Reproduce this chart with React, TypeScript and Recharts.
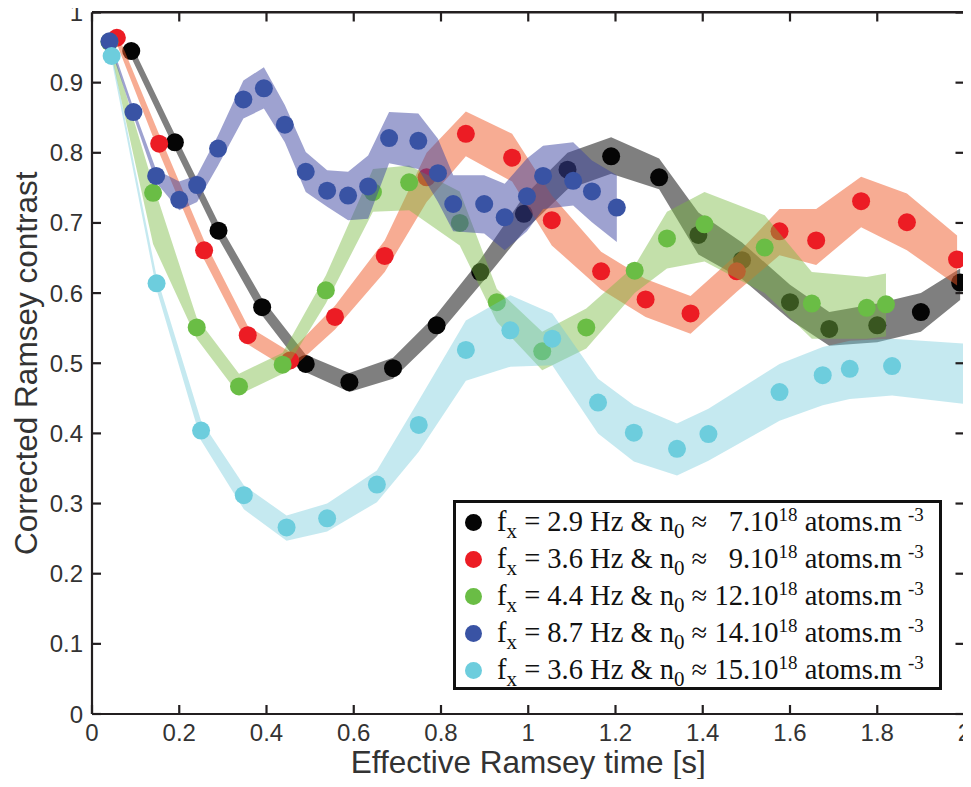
import { ComposedChart, Area, Scatter, XAxis, YAxis } from 'recharts';

// Effective Ramsey time [s] and corrected contrast
const blackTime = [0.09, 0.19, 0.29, 0.39, 0.49, 0.59, 0.69, 0.79, 0.89, 0.99, 1.09, 1.19, 1.3, 1.39, 1.49, 1.6, 1.69, 1.8, 1.9, 1.99];
const blackContrast = [0.945, 0.815, 0.689, 0.58, 0.499, 0.473, 0.493, 0.554, 0.63, 0.713, 0.776, 0.795, 0.765, 0.683, 0.647, 0.587, 0.549, 0.554, 0.573, 0.615];
const blackLow = [0.936, 0.805, 0.678, 0.568, 0.487, 0.459, 0.478, 0.538, 0.612, 0.688, 0.748, 0.77, 0.748, 0.655, 0.62, 0.562, 0.525, 0.53, 0.545, 0.59];
const blackHigh = [0.955, 0.826, 0.7, 0.592, 0.512, 0.486, 0.508, 0.57, 0.648, 0.738, 0.8, 0.822, 0.792, 0.715, 0.672, 0.612, 0.573, 0.585, 0.6, 0.635];

const redTime = [0.057, 0.154, 0.257, 0.357, 0.454, 0.557, 0.671, 0.767, 0.857, 0.963, 1.054, 1.167, 1.269, 1.372, 1.478, 1.576, 1.66, 1.763, 1.868, 1.983];
const redContrast = [0.964, 0.813, 0.661, 0.54, 0.504, 0.566, 0.653, 0.765, 0.827, 0.793, 0.704, 0.631, 0.591, 0.571, 0.631, 0.688, 0.675, 0.731, 0.701, 0.648];
const redLow = [0.955, 0.8, 0.648, 0.527, 0.49, 0.548, 0.63, 0.73, 0.795, 0.759, 0.668, 0.605, 0.566, 0.542, 0.602, 0.654, 0.64, 0.694, 0.661, 0.611];
const redHigh = [0.972, 0.826, 0.675, 0.553, 0.516, 0.582, 0.675, 0.8, 0.859, 0.827, 0.739, 0.659, 0.62, 0.596, 0.655, 0.72, 0.72, 0.766, 0.742, 0.682];

const greenTime = [0.04, 0.14, 0.24, 0.337, 0.437, 0.536, 0.644, 0.727, 0.843, 0.928, 1.032, 1.133, 1.244, 1.318, 1.404, 1.542, 1.65, 1.776, 1.82];
const greenContrast = [0.958, 0.743, 0.551, 0.467, 0.498, 0.604, 0.744, 0.758, 0.7, 0.587, 0.517, 0.551, 0.632, 0.678, 0.698, 0.665, 0.585, 0.579, 0.584];
const greenLow = [0.952, 0.67, 0.535, 0.455, 0.485, 0.585, 0.716, 0.718, 0.668, 0.559, 0.49, 0.521, 0.6, 0.635, 0.645, 0.6, 0.535, 0.535, 0.538];
const greenHigh = [0.962, 0.755, 0.565, 0.485, 0.515, 0.625, 0.777, 0.782, 0.745, 0.606, 0.545, 0.578, 0.639, 0.716, 0.744, 0.711, 0.63, 0.623, 0.628];

const blueTime = [0.04, 0.095, 0.147, 0.2, 0.241, 0.289, 0.347, 0.394, 0.442, 0.49, 0.539, 0.587, 0.633, 0.681, 0.748, 0.793, 0.828, 0.899, 0.946, 0.997, 1.034, 1.103, 1.146, 1.203];
const blueContrast = [0.959, 0.858, 0.767, 0.733, 0.754, 0.806, 0.876, 0.892, 0.84, 0.773, 0.746, 0.739, 0.752, 0.821, 0.817, 0.771, 0.727, 0.727, 0.708, 0.738, 0.767, 0.76, 0.745, 0.722];
const blueLow = [0.954, 0.852, 0.758, 0.718, 0.73, 0.782, 0.849, 0.863, 0.815, 0.744, 0.723, 0.704, 0.706, 0.785, 0.777, 0.73, 0.688, 0.685, 0.661, 0.688, 0.72, 0.725, 0.701, 0.673];
const blueHigh = [0.964, 0.864, 0.776, 0.759, 0.768, 0.825, 0.903, 0.922, 0.868, 0.801, 0.775, 0.773, 0.796, 0.858, 0.856, 0.82, 0.768, 0.768, 0.756, 0.792, 0.81, 0.815, 0.789, 0.768];

const cyanTime = [0.045, 0.148, 0.25, 0.348, 0.446, 0.539, 0.653, 0.749, 0.857, 0.959, 1.055, 1.16, 1.242, 1.341, 1.413, 1.576, 1.675, 1.737, 1.834];
const cyanContrast = [0.938, 0.614, 0.404, 0.312, 0.266, 0.279, 0.327, 0.412, 0.519, 0.547, 0.535, 0.444, 0.401, 0.378, 0.399, 0.459, 0.483, 0.492, 0.496];
// the cyan band runs on to the right edge
const cyanBandTime = [...cyanTime, 2];
const cyanLow = [0.932, 0.605, 0.39, 0.292, 0.247, 0.26, 0.302, 0.374, 0.475, 0.495, 0.497, 0.4, 0.36, 0.34, 0.361, 0.418, 0.44, 0.449, 0.454, 0.442];
const cyanHigh = [0.944, 0.624, 0.418, 0.326, 0.283, 0.3, 0.347, 0.447, 0.561, 0.597, 0.571, 0.478, 0.44, 0.414, 0.435, 0.499, 0.523, 0.532, 0.535, 0.528];

const xTicks = [0, 0.2, 0.4, 0.6, 0.8, 1, 1.2, 1.4, 1.6, 1.8, 2];
const yTicks = [0, 0.1, 0.2, 0.3, 0.4, 0.5, 0.6, 0.7, 0.8, 0.9, 1];

const toPoints = (xs: number[], ys: number[]) => xs.map((x, i) => ({ x, y: ys[i] }));
const toBand = (xs: number[], lo: number[], hi: number[]) => xs.map((x, i) => ({ x, band: [lo[i], hi[i]] }));

const series = [
  { key: 'black', dot: '#050505', band: '#000000', bandOpacity: 0.5, fx: '2.9', n0: '  7', points: toPoints(blackTime, blackContrast), range: toBand(blackTime, blackLow, blackHigh) },
  { key: 'red', dot: '#ec1c24', band: '#f05a28', bandOpacity: 0.5, fx: '3.6', n0: '  9', points: toPoints(redTime, redContrast), range: toBand(redTime, redLow, redHigh) },
  { key: 'green', dot: '#6abd45', band: '#7aba42', bandOpacity: 0.45, fx: '4.4', n0: '12', points: toPoints(greenTime, greenContrast), range: toBand(greenTime, greenLow, greenHigh) },
  { key: 'blue', dot: '#3953a4', band: '#3d45a1', bandOpacity: 0.5, fx: '8.7', n0: '14', points: toPoints(blueTime, blueContrast), range: toBand(blueTime, blueLow, blueHigh) },
  { key: 'cyan', dot: '#6dcddd', band: '#6ec8d9', bandOpacity: 0.4, fx: '3.6', n0: '15', points: toPoints(cyanTime, cyanContrast), range: toBand(cyanBandTime, cyanLow, cyanHigh) },
];

const sans = '"Liberation Sans", Arial, Helvetica, sans-serif';
const axisColor = '#231f20';

const dotShape = (color: string) => (props: any) => (
  <circle cx={props.cx} cy={props.cy} r={9} fill={color} />
);

function LegendBox() {
  const sub = { fontSize: 21, position: 'relative' as const, top: 7 };
  const sup = { fontSize: 19, position: 'relative' as const, top: -10 };
  return (
    <div
      style={{
        position: 'absolute',
        left: 445,
        top: 492,
        width: 483,
        height: 183,
        border: '3px solid #111',
        background: '#fff',
        paddingTop: 1,
        fontFamily: '"Liberation Serif", "Times New Roman", serif',
        fontSize: 28.5,
        color: '#111',
      }}
    >
      {series.map((s) => (
        <div key={s.key} style={{ display: 'flex', alignItems: 'center', height: 37, whiteSpace: 'pre' }}>
          <span style={{ width: 17, height: 17, borderRadius: '50%', background: s.dot, marginLeft: 9, marginRight: 15, flex: 'none' }} />
          <span style={{ lineHeight: '37px' }}>
            f<span style={sub}>x</span> = {s.fx} Hz &amp; n<span style={sub}>0</span> ≈ {s.n0}.10<span style={sup}>18</span> atoms.m
            <span style={{ ...sup, marginLeft: 6 }}>-3</span>
          </span>
        </div>
      ))}
    </div>
  );
}

export default function App() {
  return (
    <div style={{ position: 'relative', width: 963, height: 771 }}>
      <style>{'.recharts-wrapper svg.recharts-surface { overflow: visible; }'}</style>
      <ComposedChart width={963} height={771} margin={{ top: 0, right: 0, bottom: 0, left: 0 }}>
        <XAxis
          type="number"
          dataKey="x"
          domain={[0, 2]}
          ticks={xTicks}
          interval={0}
          height={65}
          tickSize={-9}
          tickMargin={19}
          stroke={axisColor}
          strokeWidth={2.2}
          tick={{ fill: '#333', fontSize: 24, fontFamily: sans }}
          label={{ value: 'Effective Ramsey time [s]', position: 'insideBottom', offset: 6, fill: '#333', fontSize: 31.5, fontFamily: sans }}
        />
        {/* top / right copies of the axes close the frame; the bands are drawn on them */}
        <XAxis xAxisId="top" orientation="top" type="number" dataKey="x" domain={[0, 2]} ticks={xTicks} interval={0} height={4.5} tickSize={-9} tickFormatter={() => ''} stroke={axisColor} strokeWidth={2.2} />
        <YAxis
          type="number"
          domain={[0, 1]}
          ticks={yTicks}
          interval={0}
          width={84}
          tickSize={-9}
          tickMargin={18}
          stroke={axisColor}
          strokeWidth={2.2}
          tick={{ fill: '#333', fontSize: 24, fontFamily: sans }}
          label={{ value: 'Corrected Ramsey contrast', angle: -90, position: 'insideLeft', offset: 18, fill: '#333', fontSize: 31.5, fontFamily: sans, style: { textAnchor: 'middle' } }}
        />
        <YAxis yAxisId="right" orientation="right" type="number" domain={[0, 1]} ticks={yTicks} interval={0} width={6.5} tickSize={-9} tickFormatter={() => ''} stroke={axisColor} strokeWidth={2.2} />
        {series.map((s, i) => [
          <Area
            key={`${s.key}-band`}
            xAxisId="top"
            yAxisId="right"
            data={s.range}
            dataKey="band"
            type="linear"
            stroke="none"
            fill={s.band}
            fillOpacity={s.bandOpacity}
            isAnimationActive={false}
            zIndex={101 + i * 2}
          />,
          <Scatter
            key={`${s.key}-dots`}
            data={s.points}
            dataKey="y"
            shape={dotShape(s.dot)}
            isAnimationActive={false}
            zIndex={102 + i * 2}
          />,
        ])}
      </ComposedChart>
      {/* plot frame: top and right edges */}
      <div style={{ position: 'absolute', left: 84, top: 3.4, width: 871.4, height: 702, borderTop: `2.2px solid ${axisColor}`, borderRight: `2.2px solid ${axisColor}`, pointerEvents: 'none' }} />
      <LegendBox />
    </div>
  );
}
